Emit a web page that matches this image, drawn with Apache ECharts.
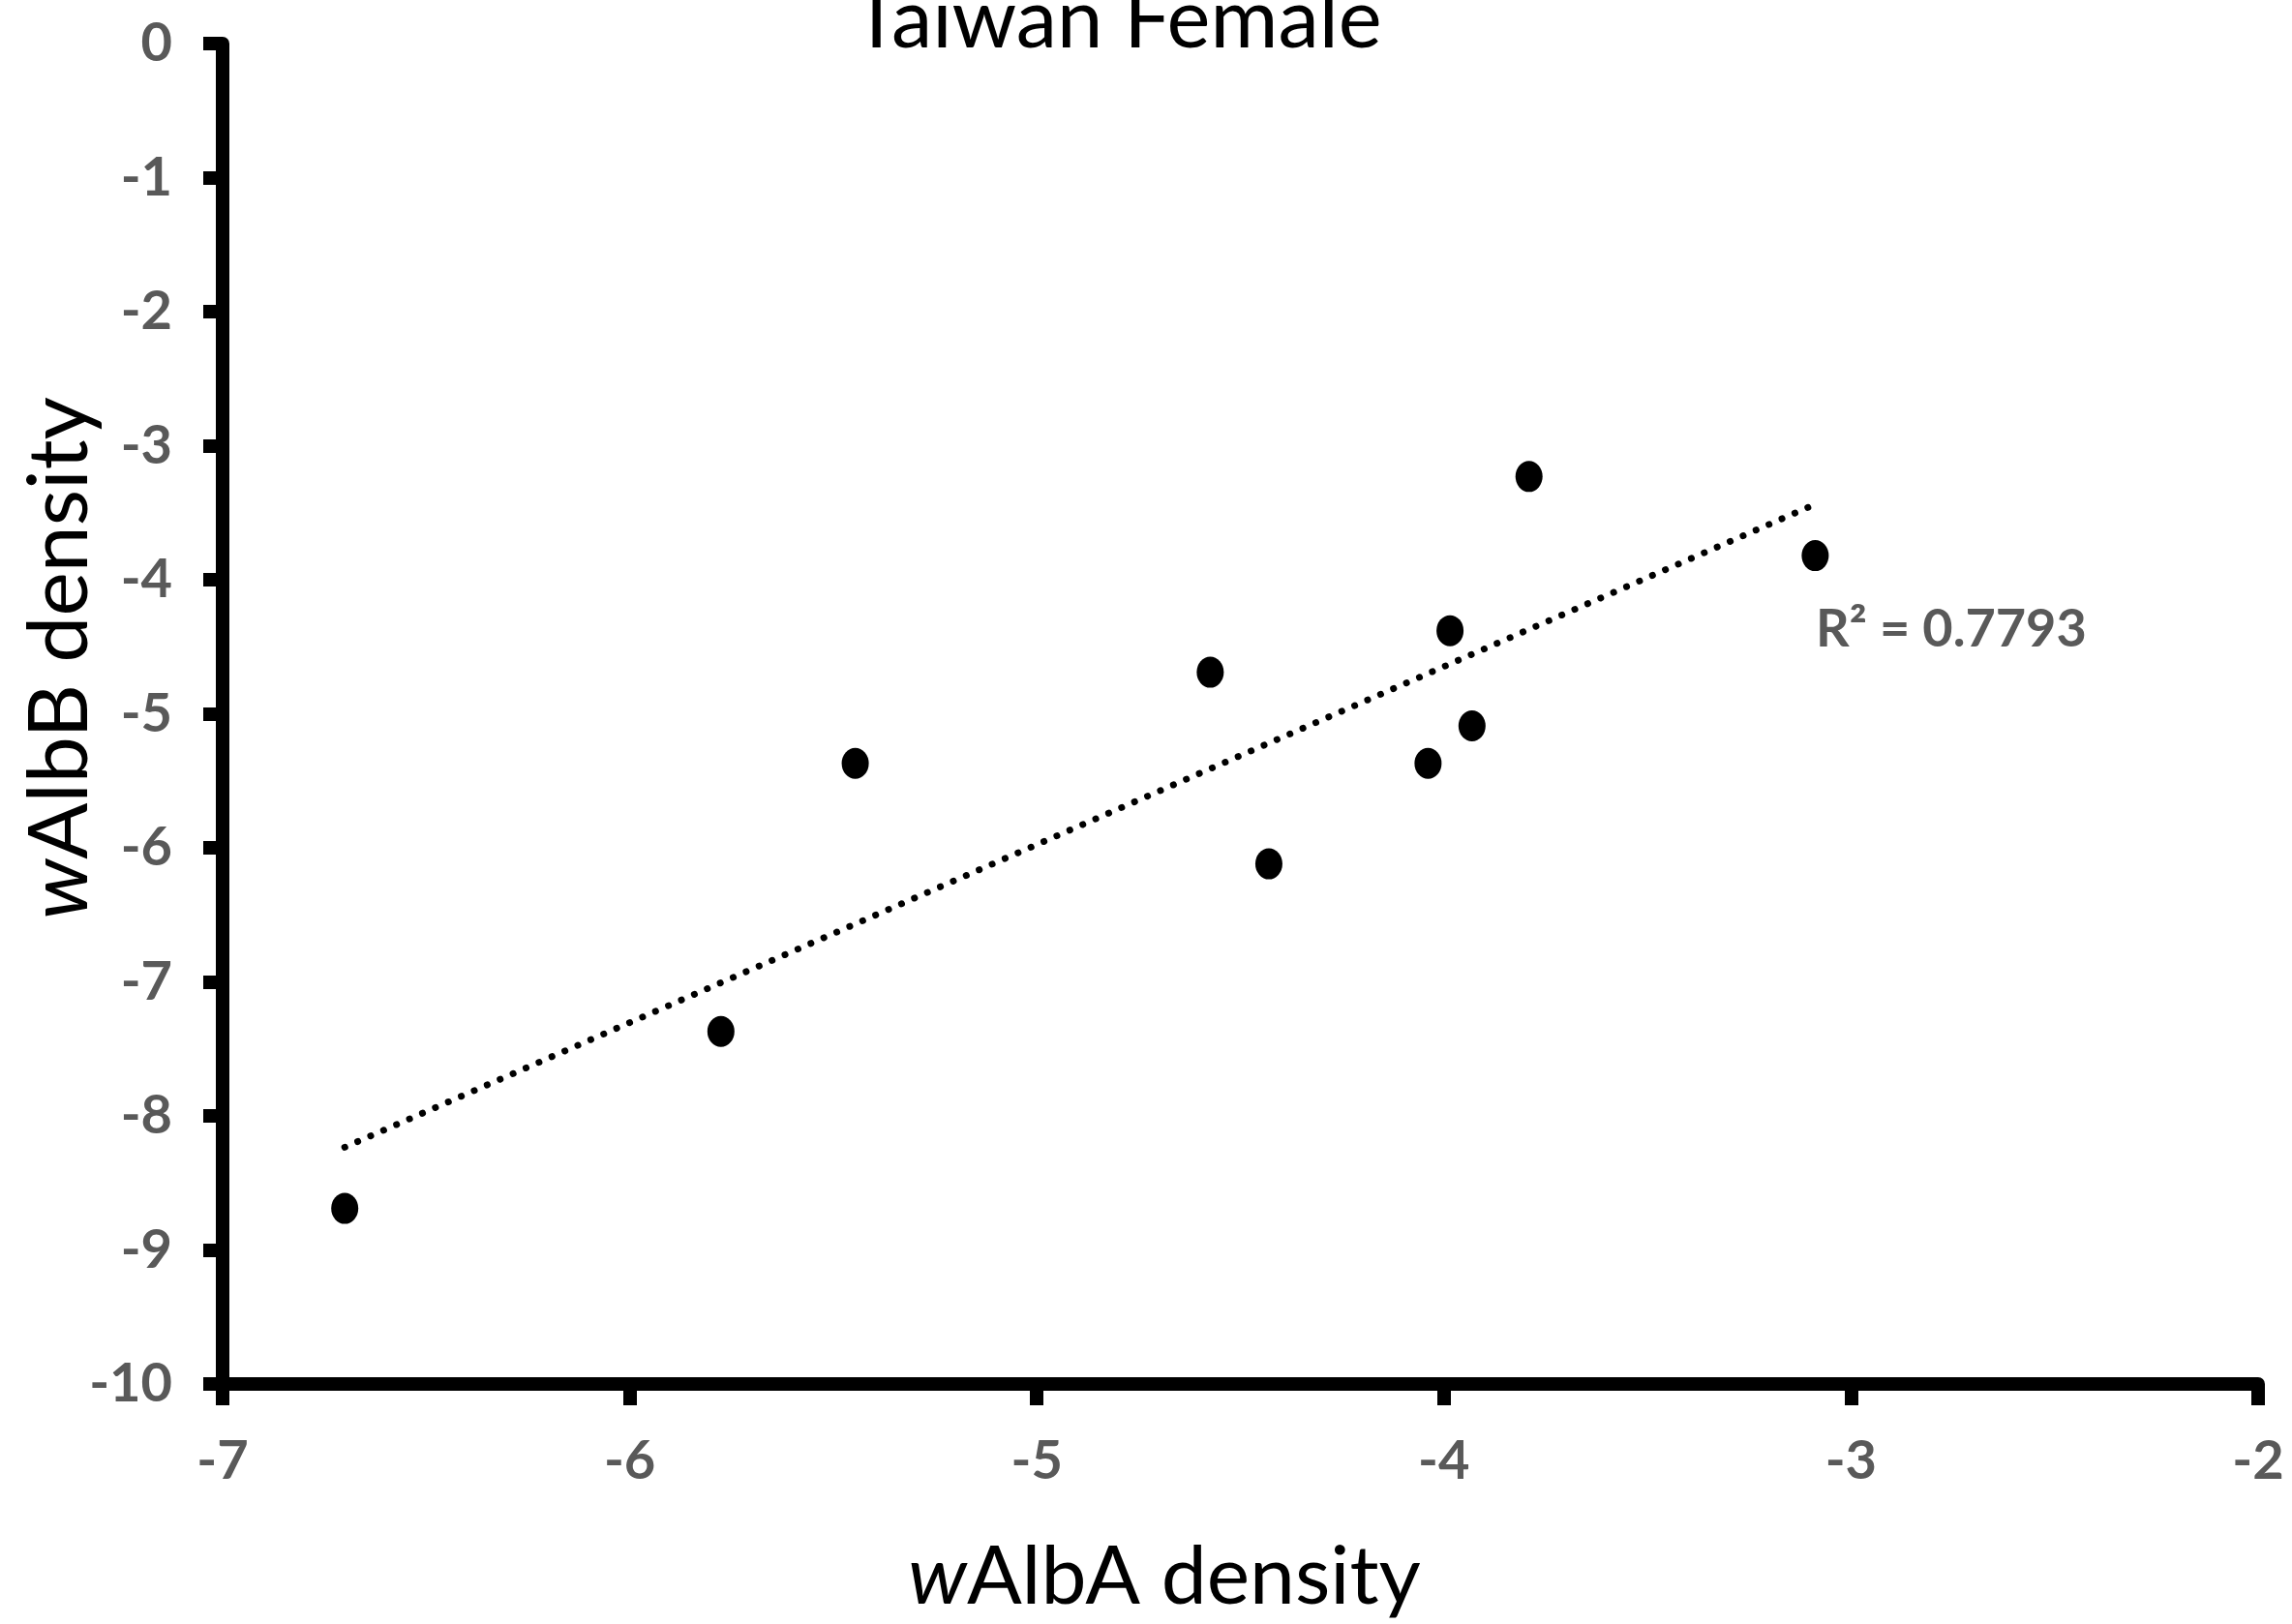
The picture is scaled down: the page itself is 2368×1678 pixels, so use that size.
<!DOCTYPE html>
<html>
<head>
<meta charset="utf-8">
<script src="https://cdn.jsdelivr.net/npm/echarts@6/dist/echarts.min.js"></script>
<style>
html,body{margin:0;padding:0;background:#fff;}
#chart{width:2368px;height:1678px;}
</style>
</head>
<body>
<div id="chart"></div>
<script>
// Data
const chartTitle = 'Taiwan Female';
const xName = 'AlbA density';
const yName = 'AlbB density';
const walbA = [-6.70, -5.776, -5.446, -4.574, -4.430, -4.039, -3.985, -3.931, -3.791, -3.088];
const walbB = [-8.69, -7.37, -5.37, -4.69, -6.12, -5.37, -4.38, -5.09, -3.23, -3.82];
const xTicks = [-7, -6, -5, -4, -3, -2];
const yTicks = [0, -1, -2, -3, -4, -5, -6, -7, -8, -9, -10];
const r2Text = 'R² = 0.7793';

// Linear trend line (least squares) from the data
const n = walbA.length;
const mx = walbA.reduce((a, b) => a + b, 0) / n;
const my = walbB.reduce((a, b) => a + b, 0) / n;
let sxy = 0, sxx = 0;
for (let i = 0; i < n; i++) { sxy += (walbA[i] - mx) * (walbB[i] - my); sxx += (walbA[i] - mx) ** 2; }
const slope = sxy / sxx;
const intercept = my - slope * mx;
const xMinD = Math.min(...walbA), xMaxD = Math.max(...walbA);
const trend = [[xMinD, intercept + slope * xMinD], [xMaxD, intercept + slope * xMaxD]];

const points = walbA.map((x, i) => [x, walbB[i]]);

const chart = echarts.init(document.getElementById('chart'));
const tickFont = { fontFamily: 'Lato', fontWeight: 'bold', fontSize: 56, color: '#595959' };
chart.setOption({
  backgroundColor: '#ffffff',
  animation: false,
  grid: { left: 230, right: 35, top: 45, bottom: 248, containLabel: false },
  xAxis: {
    type: 'value', min: xTicks[0], max: xTicks[xTicks.length - 1], interval: 1,
    axisLine: { onZero: false, lineStyle: { color: '#000', width: 14 } },
    axisTick: { show: true, inside: false, length: 22, lineStyle: { color: '#000', width: 14 } },
    axisLabel: Object.assign({ margin: 52 }, tickFont),
    splitLine: { show: false }
  },
  yAxis: {
    type: 'value', min: yTicks[yTicks.length - 1], max: yTicks[0], interval: 1,
    axisLine: { onZero: false, lineStyle: { color: '#000', width: 14 } },
    axisTick: { show: true, inside: false, length: 20, lineStyle: { color: '#000', width: 14 } },
    axisLabel: Object.assign({ margin: 52 }, tickFont),
    splitLine: { show: false }
  },
  series: [
    {
      type: 'line', data: trend, symbol: 'none', silent: true,
      lineStyle: { color: '#000', width: 7, type: [0.1, 14.5], cap: 'round', opacity: 1 },
      z: 2
    },
    {
      type: 'scatter', data: points, symbol: 'circle', symbolSize: [28, 32],
      itemStyle: { color: '#000', opacity: 1 }, z: 3
    }
  ],
  graphic: [
    { type: 'text', x: 1154, y: 22,
      style: { text: chartTitle, fontFamily: 'Lato', fontSize: 85, fill: '#000', textAlign: 'center', textVerticalAlign: 'middle' } },
    { type: 'text', x: 1203, y: 1630,
      style: { text: '{i|w}' + xName, fontFamily: 'Lato', fontSize: 84, fill: '#000', textAlign: 'center', textVerticalAlign: 'middle',
        rich: { i: { fontFamily: 'Lato', fontStyle: 'italic', fontSize: 84, fill: '#000' } } } },
    { type: 'text', x: 62, y: 680, rotation: Math.PI / 2,
      style: { text: '{i|w}' + yName, fontFamily: 'Lato', fontSize: 86, fill: '#000', textAlign: 'center', textVerticalAlign: 'middle',
        rich: { i: { fontFamily: 'Lato', fontStyle: 'italic', fontSize: 86, fill: '#000' } } } },
    { type: 'text', x: 1876, y: 651,
      style: { text: r2Text, fontFamily: 'Lato', fontWeight: 'bold', fontSize: 54, fill: '#595959', textAlign: 'left', textVerticalAlign: 'middle' } }
  ]
});
</script>
</body>
</html>
